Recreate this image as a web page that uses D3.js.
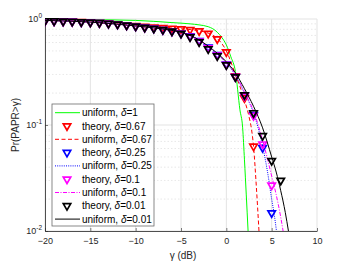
<!DOCTYPE html>
<html>
<head>
<meta charset="utf-8">
<script src="https://cdn.jsdelivr.net/npm/d3@7"></script>
<style>
  body { margin: 0; background: #fff; }
  svg { display: block; font-family: "Liberation Sans", Arial, sans-serif; }
</style>
</head>
<body>
<script>
// theory markers, one per dB
const theoryX = [-20, -19, -18, -17, -16, -15, -14, -13, -12, -11, -10, -9, -8, -7, -6, -5, -4, -3, -2, -1, 0, 1, 2, 3, 4, 5, 6];
const theoryP067 = [0.96, 0.957, 0.953, 0.947, 0.94, 0.932, 0.922, 0.91, 0.895, 0.878, 0.862, 0.848, 0.836, 0.825, 0.815, 0.805, 0.79, 0.771, 0.73, 0.648, 0.488, 0.29, 0.18, 0.063];
const theoryP025 = [0.96, 0.957, 0.952, 0.945, 0.938, 0.93, 0.92, 0.905, 0.89, 0.872, 0.853, 0.834, 0.817, 0.793, 0.768, 0.735, 0.69, 0.625, 0.54, 0.46, 0.375, 0.285, 0.19, 0.125, 0.061, 0.0148];
const theoryP01 = [0.96, 0.957, 0.952, 0.945, 0.938, 0.93, 0.92, 0.905, 0.89, 0.872, 0.853, 0.833, 0.816, 0.792, 0.767, 0.733, 0.685, 0.618, 0.532, 0.455, 0.372, 0.285, 0.188, 0.122, 0.066, 0.027];
const theoryP001 = [0.96, 0.957, 0.952, 0.945, 0.938, 0.93, 0.92, 0.905, 0.89, 0.872, 0.852, 0.832, 0.815, 0.79, 0.765, 0.73, 0.676, 0.607, 0.52, 0.448, 0.368, 0.284, 0.192, 0.13, 0.079, 0.046, 0.030];

// uniform curves
const uniX1 = [-20, -15, -10, -6, -4, -3, -2, -1.5, -1, -0.5, 0, 0.5, 1, 1.5, 1.8, 2, 2.2, 2.4];
const uniP1 = [0.99, 0.985, 0.97, 0.925, 0.9, 0.88, 0.846, 0.81, 0.75, 0.67, 0.57, 0.44, 0.32, 0.139, 0.094, 0.0469, 0.0219, 0.01];
const uniX067 = [-20, -15, -10, -8, -6, -5, -4, -3, -2, -1, 0, 1, 2, 2.5, 2.77, 3, 3.3, 3.6];
const uniP067 = [0.97, 0.94, 0.87, 0.845, 0.822, 0.81, 0.795, 0.775, 0.735, 0.655, 0.5, 0.3, 0.172, 0.12, 0.092, 0.063, 0.027, 0.01];
const uniX025 = [-20, -15, -10, -8, -6, -5, -4, -3, -2, -1, 0, 1, 2, 3, 4, 4.5, 5, 5.3, 5.53];
const uniP025 = [0.97, 0.935, 0.86, 0.825, 0.778, 0.745, 0.695, 0.63, 0.545, 0.465, 0.385, 0.295, 0.2, 0.13, 0.063, 0.038, 0.020, 0.014, 0.01];
const uniX01 = [-20, -15, -10, -8, -6, -5, -4, -3, -2, -1, 0, 1, 2, 3, 4, 5, 5.5, 6, 6.26];
const uniP01 = [0.97, 0.935, 0.86, 0.825, 0.778, 0.745, 0.695, 0.63, 0.548, 0.468, 0.388, 0.3, 0.205, 0.135, 0.072, 0.033, 0.022, 0.0135, 0.01];
const uniX001 = [-20, -15, -10, -8, -6, -5, -4, -3, -2, -1, 0, 1, 2, 3, 4, 5, 5.5, 6, 6.5, 6.85];
const uniP001 = [0.97, 0.935, 0.86, 0.825, 0.78, 0.75, 0.70, 0.635, 0.555, 0.475, 0.395, 0.31, 0.22, 0.15, 0.094, 0.05, 0.036, 0.024, 0.015, 0.01];

const xTicks = [-20, -15, -10, -5, 0, 5, 10];
const yTicks = [1, 0.1, 0.01];
const yTickExp = ["0", "-1", "-2"];

const width = 350, height = 263;
const margin = { left: 45, right: 33, top: 19, bottom: 32 };

const x = d3.scaleLinear().domain([-20, 10]).range([margin.left, width - margin.right]);
const y = d3.scaleLog().domain([0.01, 1]).range([height - margin.bottom, margin.top]);

const svg = d3.select("body").append("svg")
    .attr("width", width)
    .attr("height", height);

svg.append("defs").append("clipPath")
    .attr("id", "plotClip")
    .append("rect")
    .attr("x", x(-20)).attr("y", y(1) - 6)
    .attr("width", x(10) - x(-20) + 6)
    .attr("height", y(0.01) - y(1) + 6);

// grid
const grid = svg.append("g");
const minorY = [];
[0.01, 0.1].forEach(function(d) {
    for (let k = 2; k <= 9; ++k) minorY.push(d * k);
});
grid.selectAll(".minor").data(minorY).enter().append("line")
    .attr("x1", x(-20)).attr("x2", x(10))
    .attr("y1", d => y(d)).attr("y2", d => y(d))
    .attr("stroke", "#dedede")
    .attr("stroke-width", 0.7)
    .attr("stroke-dasharray", "1.5,2");
grid.selectAll(".majorY").data(yTicks).enter().append("line")
    .attr("x1", x(-20)).attr("x2", x(10))
    .attr("y1", d => y(d)).attr("y2", d => y(d))
    .attr("stroke", "#e3e3e3");
grid.selectAll(".majorX").data(xTicks).enter().append("line")
    .attr("x1", d => x(d)).attr("x2", d => x(d))
    .attr("y1", y(1)).attr("y2", y(0.01))
    .attr("stroke", "#e3e3e3");

// axes
const axisColor = "#262626";
const xAxis = svg.append("g")
    .attr("transform", `translate(0,${y(0.01)})`)
    .call(d3.axisBottom(x).tickValues(xTicks).tickSizeInner(-3).tickSizeOuter(0).tickPadding(7));
const yAxis = svg.append("g")
    .attr("transform", `translate(${x(-20)},0)`)
    .call(d3.axisLeft(y).tickValues(yTicks).tickSizeInner(-3).tickSizeOuter(0).tickFormat(""));
[xAxis, yAxis].forEach(function(a) {
    a.select(".domain").attr("stroke", axisColor).attr("stroke-width", 0.8);
    a.selectAll(".tick line").attr("stroke", axisColor).attr("stroke-width", 0.6);
    a.selectAll("text").attr("fill", axisColor).attr("font-size", 9)
        .attr("font-family", "Liberation Sans, Arial, sans-serif");
});

// log tick labels with superscripts
const yLab = svg.append("g");
yTicks.forEach(function(d, i) {
    const t = yLab.append("text")
        .attr("x", x(-20) - 3)
        .attr("y", y(d) + 3)
        .attr("text-anchor", "end")
        .attr("font-size", 9)
        .attr("fill", axisColor);
    t.append("tspan").text("10");
    t.append("tspan").attr("dy", -4).attr("font-size", 6.5).text(yTickExp[i]);
});

// axis titles
svg.append("text")
    .attr("x", 183).attr("y", 259)
    .attr("text-anchor", "middle")
    .attr("font-size", 10)
    .attr("fill", axisColor)
    .text("\u03b3 (dB)");
svg.append("text")
    .attr("transform", `translate(19,${(y(1) + y(0.01)) / 2}) rotate(-90)`)
    .attr("text-anchor", "middle")
    .attr("font-size", 10)
    .attr("fill", axisColor)
    .text("Pr(PAPR>\u03b3)");

// series definitions
const series = [
    { kind: "line", xs: uniX1, ps: uniP1, color: "#00ff00", dash: null, label: "uniform, ", delta: "1" },
    { kind: "mark", xs: theoryX, ps: theoryP067, color: "#ff0000", label: "theory, ", delta: "0.67" },
    { kind: "line", xs: uniX067, ps: uniP067, color: "#ff0000", dash: "4,2.5", label: "uniform, ", delta: "0.67" },
    { kind: "mark", xs: theoryX, ps: theoryP025, color: "#0000ff", label: "theory, ", delta: "0.25" },
    { kind: "line", xs: uniX025, ps: uniP025, color: "#0000ff", dash: "1,1.2", label: "uniform, ", delta: "0.25" },
    { kind: "mark", xs: theoryX, ps: theoryP01, color: "#ff00ff", label: "theory, ", delta: "0.1" },
    { kind: "line", xs: uniX01, ps: uniP01, color: "#ff00ff", dash: "4,1.5,1,1.5", label: "uniform, ", delta: "0.1" },
    { kind: "mark", xs: theoryX, ps: theoryP001, color: "#000000", label: "theory, ", delta: "0.01" },
    { kind: "line", xs: uniX001, ps: uniP001, color: "#000000", dash: null, label: "uniform, ", delta: "0.01" }
];

const line = d3.line()
    .x(d => x(d[0]))
    .y(d => y(d[1]))
    .curve(d3.curveMonotoneX);

const tri = d3.symbol().type(d3.symbolTriangle).size(24);

const plot = svg.append("g").attr("clip-path", "url(#plotClip)");
series.forEach(function(s) {
    const pts = s.ps.map((p, i) => [s.xs[i], p]);
    if (s.kind === "line") {
        plot.append("path")
            .datum(pts)
            .attr("d", line)
            .attr("fill", "none")
            .attr("stroke", s.color)
            .attr("stroke-width", 1)
            .attr("stroke-dasharray", s.dash);
    } else {
        plot.selectAll(null).data(pts).enter().append("path")
            .attr("d", tri)
            .attr("transform", d => `translate(${x(d[0])},${y(d[1])}) rotate(180)`)
            .attr("fill", "none")
            .attr("stroke", s.color)
            .attr("stroke-width", 1.7);
    }
});

// legend
const legend = svg.append("g").attr("transform", "translate(52,104)");
legend.append("rect")
    .attr("width", 102).attr("height", 122)
    .attr("fill", "#fff")
    .attr("stroke", "#6b6b6b")
    .attr("stroke-width", 0.8);
series.forEach(function(s, i) {
    const row = legend.append("g").attr("transform", `translate(0,${8.7 + i * 13.3})`);
    if (s.kind === "line") {
        row.append("line")
            .attr("x1", 3).attr("x2", 28)
            .attr("stroke", s.color)
            .attr("stroke-width", 1)
            .attr("stroke-dasharray", s.dash);
    } else {
        row.append("path")
            .attr("d", tri)
            .attr("transform", "translate(15,0) rotate(180)")
            .attr("fill", "none")
            .attr("stroke", s.color)
            .attr("stroke-width", 1.7);
    }
    const t = row.append("text")
        .attr("x", 30).attr("y", 3.5)
        .attr("font-size", 10)
        .attr("fill", "#000");
    t.append("tspan").text(s.label);
    t.append("tspan").attr("font-style", "italic").text("\u03b4");
    t.append("tspan").text("=" + s.delta);
});
</script>
</body>
</html>
